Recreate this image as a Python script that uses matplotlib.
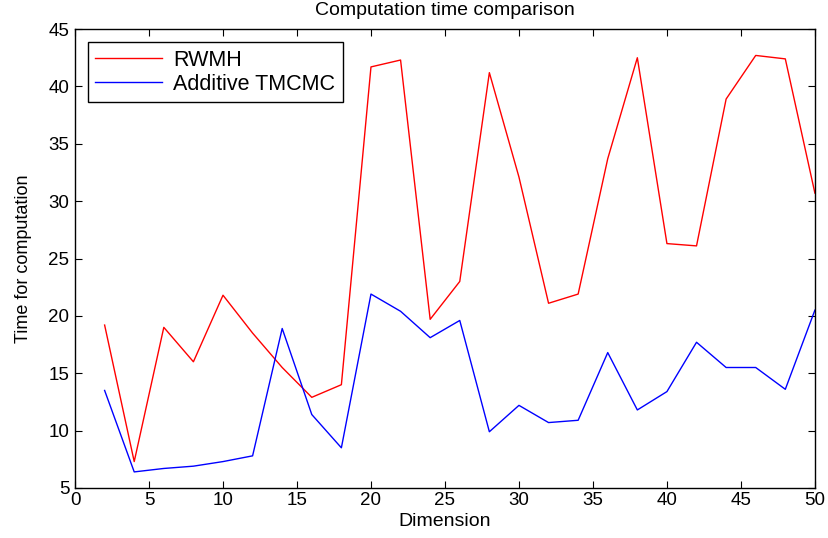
import numpy as np
import matplotlib.pyplot as plt

dims = [2, 4, 6, 8, 10, 12, 14, 16, 18, 20, 22, 24, 26, 28, 30, 32, 34, 36, 38, 40, 42, 44, 46, 48, 50]
rwmh = [19.2, 7.3, 19.0, 16.0, 21.8, 18.5, 15.5, 12.9, 14.0, 41.7, 42.3, 19.7, 23.0, 41.2, 32.1,
        21.1, 21.9, 33.7, 42.5, 26.3, 26.1, 38.9, 42.7, 42.4, 30.7]
tmcmc = [13.5, 6.4, 6.7, 6.9, 7.3, 7.8, 18.9, 11.4, 8.5, 21.9, 20.4, 18.1, 19.6, 9.9, 12.2,
         10.7, 10.9, 16.8, 11.8, 13.4, 17.7, 15.5, 15.5, 13.6, 20.5]

plt.rcParams['font.family'] = ['Liberation Sans', 'DejaVu Sans']

fig = plt.figure(figsize=(8.29, 5.38), dpi=100)
ax = fig.add_axes([0.0905, 0.093, 0.8925, 0.853])

ax.plot(dims, rwmh, color='red', lw=1.0, label='RWMH')
ax.plot(dims, tmcmc, color='blue', lw=1.0, label='Additive TMCMC')

ax.set_xlim(0, 50)
ax.set_ylim(5, 45)
ax.set_xticks(np.arange(0, 51, 5))
ax.set_yticks(np.arange(5, 46, 5))
ax.tick_params(direction='in', top=True, right=True, labelsize=13.5, length=5, width=0.8)
ax.tick_params(axis='x', pad=3)
ax.tick_params(axis='y', pad=4)
for s in ax.spines.values():
    s.set_linewidth(1.0)

ax.set_xlabel('Dimension', fontsize=14, labelpad=3)
ax.set_ylabel('Time for computation', fontsize=13, labelpad=12)
ax.set_title('Computation time comparison', fontsize=14, pad=10)

leg = ax.legend(loc='upper left', fontsize=15.5, fancybox=False, framealpha=1,
                edgecolor='black', handlelength=3.1, handletextpad=0.5,
                borderaxespad=0.6, borderpad=0.35, labelspacing=0.15)
leg.get_frame().set_linewidth(1.0)

fig.savefig('out.png', dpi=100)
